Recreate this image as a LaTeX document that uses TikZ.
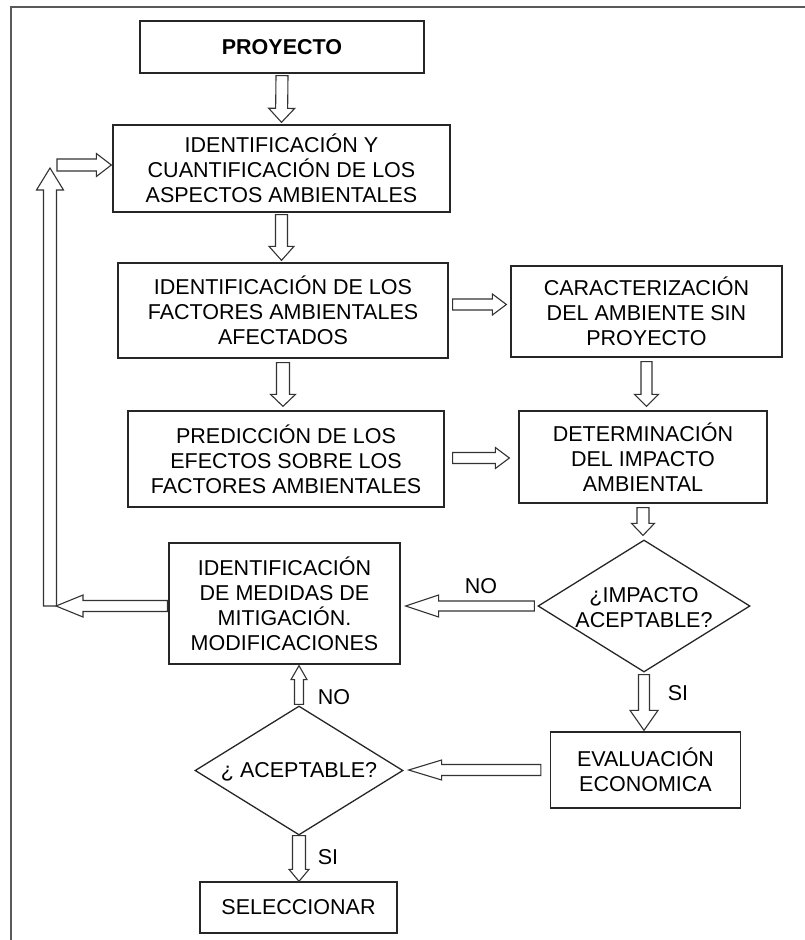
\documentclass[tikz,border=0pt]{standalone}
\usepackage{fontspec}
\setmainfont{Liberation Sans}
\usetikzlibrary{calc,shapes.geometric}
\tikzset{
  box/.style={draw=black!85, line width=1.3pt, align=center, inner sep=0pt,
    font=\fontsize{21.5}{25}\selectfont},
  dia/.style={draw=black!85, line width=1.3pt, diamond, inner sep=0pt},
  txt/.style={align=center, inner sep=0pt, font=\fontsize{21.5}{25}\selectfont},
  blk/.style={draw=black!80, line width=1.1pt, fill=white, line join=miter},
  frame/.style={draw=black!65, line width=2pt},
}
% block arrow: #1 start, #2 tip, #3 shaft half width, #4 head half width, #5 head length
\newcommand\barr[5]{%
  \path[blk] let \p1=(#1), \p2=(#2),
      \n1={atan2(\y2-\y1,\x2-\x1)},
      \n2={veclen(\x2-\x1,\y2-\y1)-#5pt} in
    ($(\p1)+(\n1+90:#3pt)$)
    -- ($(\p1)+(\n1:\n2)+(\n1+90:#3pt)$)
    -- ($(\p1)+(\n1:\n2)+(\n1+90:#4pt)$)
    -- (\p2)
    -- ($(\p1)+(\n1:\n2)+(\n1-90:#4pt)$)
    -- ($(\p1)+(\n1:\n2)+(\n1-90:#3pt)$)
    -- ($(\p1)+(\n1-90:#3pt)$) -- cycle;}
\begin{document}
\begin{tikzpicture}[x=1pt,y=-1pt]
\useasboundingbox (0,0) rectangle (805,940);
\draw[frame] (805,7) -- (11,7) -- (11,940);

% boxes
\node[box, minimum width=284pt, minimum height=52pt] (P) at (282,47) {\textbf{PROYECTO}};
\node[box, minimum width=337pt, minimum height=87pt] (B1) at (281.5,168.5)
  {IDENTIFICACIÓN Y\\CUANTIFICACIÓN DE LOS\\ASPECTOS AMBIENTALES};
\node[box, minimum width=330pt, minimum height=95pt] (B2) at (283,310.5)
  {IDENTIFICACIÓN DE LOS\\FACTORES AMBIENTALES\\AFECTADOS};
\node[box, minimum width=271pt, minimum height=91pt] (B3) at (646.5,311.5)
  {CARACTERIZACIÓN\\DEL AMBIENTE SIN\\PROYECTO};
\node[box, minimum width=316pt, minimum height=96pt] (B4) at (286,459)
  {PREDICCIÓN DE LOS\\EFECTOS SOBRE LOS\\FACTORES AMBIENTALES};
\node[box, minimum width=248pt, minimum height=92pt] (B5) at (643,457)
  {DETERMINACIÓN\\DEL IMPACTO\\AMBIENTAL};
\node[dia, minimum width=212pt, minimum height=132pt] (D1) at (644,606) {};
\node[txt] (D1t) at (644,607.5) {¿IMPACTO\\ACEPTABLE?};
\node[box, minimum width=231pt, minimum height=121pt] (B6) at (284.5,603.5)
  {IDENTIFICACIÓN\\DE MEDIDAS DE\\MITIGACIÓN.\\MODIFICACIONES};
\node[box, minimum width=190pt, minimum height=76pt] (B7) at (645.5,770)
  {EVALUACIÓN\\ECONOMICA};
\node[dia, minimum width=208pt, minimum height=129pt] (D2) at (299,770.5) {};
\node[txt] (D2t) at (299,772) {¿ ACEPTABLE?};
\node[box, minimum width=197pt, minimum height=51pt] (B8) at (298.5,907.5) {SELECCIONAR};

% helper coordinates
\coordinate (LB) at (50,606);
\coordinate (LT) at (50,168);
\coordinate (RS) at (57,165);
\coordinate (A4) at ([xshift=4pt,yshift=6pt]B2.east);
\coordinate (A6) at ([xshift=8pt,yshift=1pt]B4.east);

% arrows
\barr{[yshift=-2pt]P.south}{[yshift=2pt]B1.north}{6}{13}{14}
\barr{[yshift=-2pt]B1.south}{[yshift=2pt]B1.south |- B2.north}{6}{12.5}{14}
\barr{[yshift=-4pt]B2.south}{[yshift=4pt]B2.south |- B4.north}{6.5}{12.5}{12}
\barr{A4}{[xshift=-4pt]B3.west |- A4}{5.5}{10.5}{14}
\barr{[yshift=-4pt]B3.south}{[yshift=4pt]B3.south |- B5.north}{5.5}{12}{12}
\barr{A6}{[xshift=-9pt]B5.west |- A6}{5.5}{10.5}{14}
\barr{[yshift=-4pt]B5.south}{[yshift=4pt]B5.south |- D1.north}{6}{11.5}{12}
\barr{[xshift=-3pt]D1.west}{[xshift=5pt]B6.east |- D1.west}{5}{11}{33}
\barr{[xshift=-1pt]B6.west |- LB}{[xshift=6pt]LB}{5.5}{11}{27}
\barr{LB}{LT}{6.5}{13.5}{22}
\barr{RS}{[xshift=-1pt]B1.west |- RS}{6}{11.5}{15}
\barr{[yshift=-2pt]D1.south}{[yshift=1pt]D1.south |- B7.north}{5.5}{14}{20}
\barr{[xshift=-9pt]B7.west}{[xshift=5pt]D2.east |- B7.west}{5.5}{10}{33}
\barr{[yshift=1pt]D2.north}{[yshift=-1pt]D2.north |- B6.south}{4.5}{8}{14}
\barr{D2.south}{D2.south |- B8.north}{6.5}{10}{12}

% labels
\node[txt] (no1) at (481,586) {NO};
\node[txt] (no2) at (334,697) {NO};
\node[txt] (si1) at (678,693) {SI};
\node[txt] (si2) at (328,857) {SI};
\end{tikzpicture}
\end{document}
